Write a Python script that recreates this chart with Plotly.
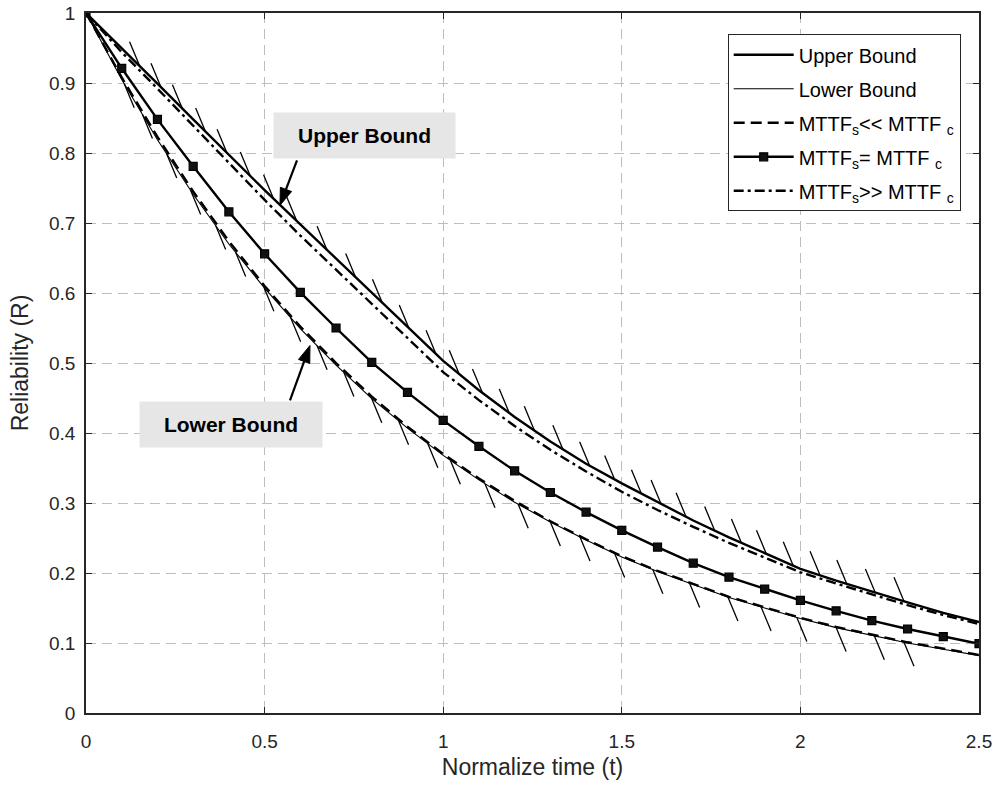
import numpy as np
import plotly.graph_objects as go

# ---------------- data ----------------
time = [0.0, 0.1, 0.2, 0.3, 0.4, 0.5, 0.6, 0.7, 0.8, 0.9, 1.0, 1.1, 1.2,
        1.3, 1.4, 1.5, 1.6, 1.7, 1.8, 1.9, 2.0, 2.1, 2.2, 2.3, 2.4, 2.5]

upper_bound = [1.000, 0.950, 0.899, 0.848, 0.797, 0.747, 0.698, 0.649, 0.600,
               0.551, 0.503, 0.461, 0.423, 0.388, 0.356, 0.328, 0.301, 0.275,
               0.251, 0.228, 0.206, 0.189, 0.173, 0.158, 0.143, 0.130]

lower_bound = [1.000, 0.905, 0.819, 0.741, 0.670, 0.607, 0.549, 0.497, 0.449,
               0.407, 0.368, 0.333, 0.301, 0.273, 0.247, 0.223, 0.202, 0.183,
               0.165, 0.150, 0.135, 0.122, 0.111, 0.100, 0.091, 0.082]

mttf_s_much_less = [1.000, 0.908, 0.823, 0.745, 0.674, 0.610, 0.552, 0.500,
                    0.452, 0.409, 0.370, 0.335, 0.303, 0.274, 0.248, 0.224,
                    0.203, 0.184, 0.166, 0.151, 0.136, 0.123, 0.112, 0.101,
                    0.092, 0.083]

mttf_s_equal = [1.000, 0.921, 0.848, 0.781, 0.716, 0.656, 0.601, 0.550, 0.501,
                0.458, 0.418, 0.381, 0.346, 0.315, 0.287, 0.261, 0.237, 0.214,
                0.194, 0.177, 0.161, 0.146, 0.132, 0.120, 0.109, 0.099]

mttf_s_much_greater = [1.000, 0.944, 0.892, 0.839, 0.786, 0.733, 0.682, 0.633,
                       0.584, 0.535, 0.487, 0.447, 0.410, 0.376, 0.345, 0.316,
                       0.290, 0.266, 0.243, 0.222, 0.201, 0.185, 0.169, 0.154,
                       0.140, 0.127]

# positions (in t) of the hatch marks along the two bounds
hatch_t_upper = [0.15, 0.21, 0.27, 0.335, 0.395, 0.46, 0.525, 0.59, 0.675,
                 0.755, 0.83, 0.905, 0.98, 1.045, 1.11, 1.185, 1.255, 1.335,
                 1.41, 1.48, 1.555, 1.61, 1.68, 1.76, 1.835, 1.905, 1.98,
                 2.055, 2.13, 2.21, 2.29]
hatch_t_lower = [0.107, 0.158, 0.226, 0.293, 0.363, 0.419, 0.498, 0.573,
                 0.647, 0.722, 0.8, 0.875, 0.957, 1.02, 1.117, 1.21, 1.3,
                 1.383, 1.48, 1.587, 1.69, 1.797, 1.89, 1.99, 2.1, 2.207, 2.29]

x_range = [0, 2.5]
y_range = [0, 1]

# annotation anchors (t, R): label box centres and arrow tail -> tip
label_upper = (0.781, 0.8246)
label_lower = (0.406, 0.4124)
arrow_upper = ((0.5907, 0.7896), (0.543, 0.7253))
arrow_lower = ((0.5711, 0.4467), (0.627, 0.525))

# ---------------- layout geometry ----------------
W, H = 999, 787
ML, MR, MT, MB = 86, 20, 13, 74
PW, PH = W - ML - MR, H - MT - MB
px_x = PW / (x_range[1] - x_range[0])
px_y = PH / (y_range[1] - y_range[0])
HATCH_DX = 10 / px_x
HATCH_DY = 24 / px_y

FONT = "Liberation Sans, Arial, Helvetica, sans-serif"
BLACK = "#000000"
AXC = "#262626"


def hatch_segments(ts, curve, side):
    xs, ys = [], []
    for t in ts:
        r = float(np.interp(t, time, curve))
        if side == "up":
            xs += [t, t - HATCH_DX, None]
            ys += [r, r + HATCH_DY, None]
        else:
            xs += [t, t + HATCH_DX, None]
            ys += [r, r - HATCH_DY, None]
    return xs, ys


def arrow_shapes(tail, tip, head_len=17, head_w=12):
    dxp = (tip[0] - tail[0]) * px_x
    dyp = (tip[1] - tail[1]) * px_y
    n = (dxp ** 2 + dyp ** 2) ** 0.5
    ux, uy = dxp / n, dyp / n
    bx = tip[0] - ux * head_len / px_x
    by = tip[1] - uy * head_len / px_y
    nx, ny = -uy, ux
    lx = bx + nx * head_w / 2 / px_x
    ly = by + ny * head_w / 2 / px_y
    rx = bx - nx * head_w / 2 / px_x
    ry = by - ny * head_w / 2 / px_y
    line = dict(type="line", xref="x", yref="y", x0=tail[0], y0=tail[1],
                x1=bx, y1=by, line=dict(color=BLACK, width=2.2))
    head = dict(type="path", xref="x", yref="y",
                path=f"M {tip[0]},{tip[1]} L {lx},{ly} L {rx},{ry} Z",
                fillcolor=BLACK, line=dict(color=BLACK, width=1))
    return [line, head]


fig = go.Figure()

hx1, hy1 = hatch_segments(hatch_t_upper, upper_bound, "up")
hx2, hy2 = hatch_segments(hatch_t_lower, lower_bound, "down")
fig.add_trace(go.Scatter(x=hx1 + hx2, y=hy1 + hy2, mode="lines",
                         line=dict(color=BLACK, width=1.3),
                         showlegend=False, hoverinfo="skip"))

fig.add_trace(go.Scatter(x=time, y=upper_bound, mode="lines", name="Upper Bound",
                         legendgroup="g1",
                         line=dict(color=BLACK, width=2.4)))
fig.add_trace(go.Scatter(x=time, y=lower_bound, mode="lines", name="Lower Bound",
                         legendgroup="g2",
                         line=dict(color=BLACK, width=1.1)))
fig.add_trace(go.Scatter(x=time, y=mttf_s_much_less, mode="lines",
                         name="MTTF<sub>s</sub>&lt;&lt; MTTF <sub>c</sub>",
                         legendgroup="g3",
                         line=dict(color=BLACK, width=2.4, dash="11px,6px")))
fig.add_trace(go.Scatter(x=time, y=mttf_s_equal, mode="lines+markers",
                         name="MTTF<sub>s</sub>= MTTF <sub>c</sub>",
                         legendgroup="g4",
                         line=dict(color=BLACK, width=2.4),
                         marker=dict(symbol="square", size=8, color="#111111",
                                     line=dict(color=BLACK, width=1.2))))
fig.add_trace(go.Scatter(x=time, y=mttf_s_much_greater, mode="lines",
                         name="MTTF<sub>s</sub>&gt;&gt; MTTF <sub>c</sub>",
                         legendgroup="g5",
                         line=dict(color=BLACK, width=2.4, dash="10px,4px,3px,4px")))

axis_common = dict(
    showline=True, linecolor=AXC, linewidth=1.5, mirror="ticks",
    ticks="inside", ticklen=6, tickwidth=1.2, tickcolor=AXC,
    showgrid=True, gridcolor="#bdbdbd", gridwidth=1.4, griddash="10px,6px",
    zeroline=False, automargin=False,
    tickfont=dict(family=FONT, size=19, color=AXC),
)

fig.update_layout(
    width=W, height=H,
    margin=dict(l=ML, r=MR, t=MT, b=MB, autoexpand=False),
    paper_bgcolor="white", plot_bgcolor="white",
    xaxis=dict(range=x_range, dtick=0.5, tick0=0, ticklabelstandoff=10,
               title=dict(text="Normalize time (t)", standoff=8,
                          font=dict(family=FONT, size=23, color=AXC)),
               **axis_common),
    yaxis=dict(range=y_range, dtick=0.1, tick0=0, ticklabelstandoff=5,
               title=dict(text="Reliability (R)", standoff=14,
                          font=dict(family=FONT, size=23, color=AXC)),
               **axis_common),
    legend=dict(x=0.9795, y=0.9696, xanchor="right", yanchor="top",
                bgcolor="white", bordercolor=AXC, borderwidth=1,
                font=dict(family=FONT, size=20, color=BLACK),
                tracegroupgap=5, traceorder="grouped", itemwidth=60),
    showlegend=True,
)

# text boxes
fig.add_annotation(x=label_upper[0], y=label_upper[1], xref="x", yref="y",
                   showarrow=False, text="<b>Upper Bound</b>", width=181,
                   height=45, bgcolor="#e6e6e6", borderpad=0,
                   font=dict(family=FONT, size=21, color=BLACK))
fig.add_annotation(x=label_lower[0], y=label_lower[1], xref="x", yref="y",
                   showarrow=False, text="<b>Lower Bound</b>", width=182,
                   height=45, bgcolor="#e6e6e6", borderpad=0,
                   font=dict(family=FONT, size=21, color=BLACK))
# arrows
for tail, tip in (arrow_upper, arrow_lower):
    for s in arrow_shapes(tail, tip):
        fig.add_shape(**s)

fig.write_html("out.html",
               config={"displayModeBar": False},
               post_script="document.body.style.margin='0px';"
                           "document.body.style.overflow='hidden';")
